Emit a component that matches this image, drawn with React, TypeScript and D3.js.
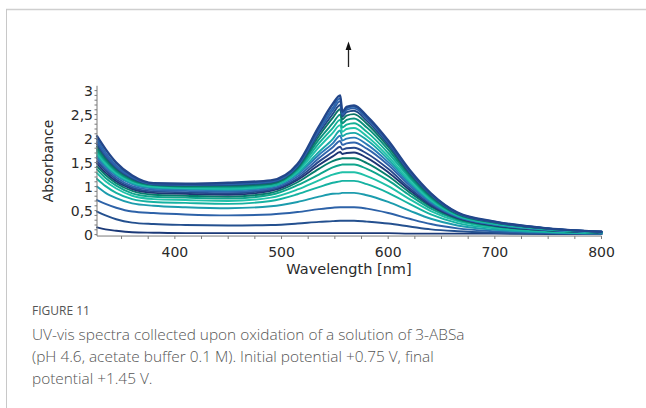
import React from "react";
import * as d3 from "d3";

// wavelength grid (nm) at which each spectrum was read
const wavelengths = [327, 335, 345, 360, 380, 410, 450, 490, 515, 535, 548, 555, 557, 561, 568, 580, 600, 620, 640, 665, 700, 750, 800];

// absorbance spectra, first (bottom) to last (top)
const s01 = [0.15, 0.11, 0.08, 0.05, 0.04, 0.03, 0.03, 0.03, 0.03, 0.03, 0.03, 0.03, 0.03, 0.03, 0.03, 0.03, 0.03, 0.02, 0.02, 0.02, 0.02, 0.01, 0.01];
const s02 = [0.48, 0.40, 0.32, 0.25, 0.22, 0.20, 0.19, 0.20, 0.23, 0.265, 0.28, 0.29, 0.29, 0.29, 0.29, 0.27, 0.23, 0.17, 0.11, 0.07, 0.04, 0.02, 0.01];
const s03 = [0.72, 0.64, 0.56, 0.48, 0.45, 0.42, 0.40, 0.42, 0.47, 0.53, 0.56, 0.57, 0.57, 0.57, 0.57, 0.54, 0.45, 0.33, 0.22, 0.13, 0.07, 0.035, 0.02];
const s04 = [1.00, 0.87, 0.76, 0.65, 0.60, 0.57, 0.55, 0.59, 0.68, 0.79, 0.85, 0.86, 0.87, 0.87, 0.87, 0.82, 0.68, 0.50, 0.33, 0.19, 0.10, 0.05, 0.025];
const s05 = [1.16, 1.01, 0.87, 0.74, 0.68, 0.66, 0.64, 0.70, 0.84, 0.99, 1.08, 1.11, 1.12, 1.12, 1.12, 1.05, 0.87, 0.64, 0.42, 0.24, 0.13, 0.06, 0.03];
const s06 = [1.28, 1.11, 0.96, 0.81, 0.74, 0.72, 0.70, 0.77, 0.94, 1.13, 1.25, 1.29, 1.30, 1.30, 1.30, 1.22, 1.01, 0.74, 0.49, 0.28, 0.15, 0.07, 0.035];
const s07 = [1.36, 1.18, 1.02, 0.86, 0.79, 0.77, 0.75, 0.83, 1.03, 1.25, 1.40, 1.45, 1.46, 1.46, 1.46, 1.37, 1.13, 0.82, 0.54, 0.31, 0.17, 0.08, 0.04];
const s08 = [1.42, 1.24, 1.07, 0.91, 0.83, 0.81, 0.79, 0.87, 1.09, 1.37, 1.53, 1.58, 1.59, 1.59, 1.59, 1.49, 1.22, 0.88, 0.58, 0.33, 0.18, 0.09, 0.04];
const s09 = [1.48, 1.29, 1.11, 0.95, 0.87, 0.85, 0.83, 0.91, 1.14, 1.45, 1.63, 1.72, 1.68, 1.70, 1.71, 1.60, 1.30, 0.93, 0.61, 0.35, 0.19, 0.09, 0.045];
const s10 = [1.53, 1.34, 1.15, 0.98, 0.90, 0.88, 0.86, 0.94, 1.17, 1.52, 1.72, 1.83, 1.77, 1.80, 1.81, 1.69, 1.37, 0.97, 0.63, 0.36, 0.20, 0.10, 0.045];
const s11 = [1.58, 1.38, 1.19, 1.01, 0.93, 0.91, 0.89, 0.96, 1.21, 1.59, 1.82, 1.95, 1.87, 1.90, 1.92, 1.79, 1.45, 1.02, 0.66, 0.37, 0.21, 0.10, 0.05];
const s12 = [1.62, 1.42, 1.23, 1.05, 0.96, 0.94, 0.92, 0.99, 1.25, 1.66, 1.90, 2.06, 1.96, 2.00, 2.02, 1.88, 1.51, 1.06, 0.68, 0.38, 0.21, 0.10, 0.05];
const s13 = [1.66, 1.45, 1.25, 1.07, 0.98, 0.96, 0.94, 1.00, 1.28, 1.72, 1.99, 2.17, 2.05, 2.10, 2.12, 1.97, 1.57, 1.10, 0.70, 0.39, 0.22, 0.11, 0.05];
const s14 = [1.70, 1.48, 1.28, 1.10, 1.00, 0.97, 0.96, 1.02, 1.31, 1.82, 2.12, 2.28, 2.14, 2.20, 2.22, 2.05, 1.63, 1.13, 0.72, 0.40, 0.23, 0.11, 0.05];
const s15 = [1.74, 1.52, 1.31, 1.12, 1.02, 0.99, 0.98, 1.03, 1.34, 1.90, 2.22, 2.39, 2.23, 2.29, 2.32, 2.14, 1.70, 1.18, 0.75, 0.41, 0.24, 0.12, 0.055];
const s16 = [1.78, 1.55, 1.33, 1.13, 1.03, 1.00, 1.00, 1.06, 1.37, 1.98, 2.32, 2.50, 2.32, 2.39, 2.42, 2.23, 1.77, 1.22, 0.78, 0.42, 0.25, 0.12, 0.055];
const s17 = [1.83, 1.59, 1.36, 1.15, 1.04, 1.01, 1.02, 1.06, 1.39, 2.05, 2.43, 2.61, 2.40, 2.48, 2.51, 2.31, 1.83, 1.26, 0.80, 0.43, 0.25, 0.125, 0.06];
const s18 = [1.88, 1.63, 1.39, 1.17, 1.05, 1.03, 1.04, 1.09, 1.42, 2.11, 2.51, 2.70, 2.46, 2.55, 2.58, 2.37, 1.88, 1.29, 0.83, 0.44, 0.26, 0.125, 0.06];
const s19 = [1.93, 1.66, 1.41, 1.19, 1.05, 1.04, 1.05, 1.10, 1.43, 2.16, 2.58, 2.78, 2.50, 2.60, 2.63, 2.42, 1.92, 1.32, 0.84, 0.45, 0.26, 0.13, 0.06];
const s20 = [1.98, 1.71, 1.44, 1.21, 1.06, 1.05, 1.06, 1.11, 1.44, 2.20, 2.64, 2.84, 2.53, 2.63, 2.66, 2.45, 1.94, 1.33, 0.85, 0.45, 0.27, 0.13, 0.06];
const s21 = [2.05, 1.78, 1.50, 1.23, 1.07, 1.06, 1.08, 1.13, 1.47, 2.25, 2.72, 2.90, 2.56, 2.66, 2.69, 2.47, 1.96, 1.35, 0.86, 0.46, 0.27, 0.13, 0.06];

const spectra = [s01, s02, s03, s04, s05, s06, s07, s08, s09, s10, s11, s12, s13, s14, s15, s16, s17, s18, s19, s20, s21];

const colors = [
  "#1c3a78", "#24508f", "#2d62a8", "#1c9cad", "#16b2a2", "#20c0a8", "#0fa58c",
  "#077d6c", "#1d3573", "#27488c", "#3065ad", "#2b7ab8", "#18a8a8", "#22c2aa",
  "#12b096", "#0a917e", "#0a7466", "#1f4a88", "#2d5ea6", "#2a66ae", "#22468a",
];

const xMajorTicks = [400, 500, 600, 700, 800];
const xMinorTicks = d3.range(350, 801, 25);
const yMajorTicks = [0, 0.5, 1, 1.5, 2, 2.5, 3];
const yTickLabels = ["0", "0,5", "1", "1,5", "2", "2,5", "3"];
const yMinorTicks = d3.range(0, 31, 1).map((v) => v / 10);

const captionTitle = "FIGURE 11";
const captionLines = [
  "UV-vis spectra collected upon oxidation of a solution of 3-ABSa",
  "(pH 4.6, acetate buffer 0.1 M). Initial potential +0.75 V, final",
  "potential +1.45 V.",
];

export default function App() {
  const x = d3.scaleLinear().domain([327, 800]).range([97, 601.5]);
  const y = d3.scaleLinear().domain([0, 3]).range([234.6, 90.6]);
  const axisY = y(-0.03);
  const axisTop = y(3.1);
  const line = d3
    .line<number>()
    .x((_, i) => x(wavelengths[i]))
    .y((d) => y(d))
    .curve(d3.curveMonotoneX);

  const tickFont = "DejaVu Sans, Verdana, sans-serif";
  return (
    <svg
      width={646}
      height={408}
      style={{ position: "absolute", left: 0, top: 0, background: "#fff" }}
    >
      <rect x={0} y={0} width={646} height={408} fill="#fff" />
      {/* frame */}
      <line x1={6} y1={9.5} x2={646} y2={9.5} stroke="#cfcfcf" strokeWidth={1.5} />
      <line x1={6.5} y1={9} x2={6.5} y2={408} stroke="#c8c8c8" strokeWidth={1} />

      {/* spectra */}
      <g fill="none" strokeLinejoin="round" strokeLinecap="round">
        {spectra.map((s, i) => (
          <path
            key={i}
            d={line(s) || ""}
            stroke={colors[i]}
            strokeWidth={i === spectra.length - 1 ? 2.4 : 1.9}
          />
        ))}
      </g>

      {/* axes */}
      <g stroke="#7a7a7a" strokeWidth={1}>
        <line x1={97} y1={axisY} x2={601.5} y2={axisY} />
        <line x1={97} y1={axisTop} x2={97} y2={axisY} />
        {xMinorTicks.map((t) => (
          <line key={"xm" + t} x1={x(t)} x2={x(t)} y1={axisY} y2={axisY + 3} />
        ))}
        {yMinorTicks.map((t) => (
          <line key={"ym" + t} x1={94.5} x2={97} y1={y(t)} y2={y(t)} />
        ))}
      </g>
      <g fontFamily={tickFont} fontSize={14} fill="#2a2a2a">
        {xMajorTicks.map((t) => (
          <text key={"xl" + t} x={x(t)} y={257} textAnchor="middle">
            {t}
          </text>
        ))}
        {yMajorTicks.map((t, i) => (
          <text key={"yl" + t} x={93} y={y(t)} dy="0.36em" textAnchor="end">
            {yTickLabels[i]}
          </text>
        ))}
        <text x={349} y={273.5} textAnchor="middle" fontSize={14.5}>
          Wavelength [nm]
        </text>
        <text
          transform="translate(53,161) rotate(-90)"
          textAnchor="middle"
          fontSize={14}
        >
          Absorbance
        </text>
      </g>

      {/* arrow */}
      <line x1={348.5} y1={67} x2={348.5} y2={48} stroke="#222" strokeWidth={1.3} />
      <polygon points="348.5,41.5 345.6,50 351.4,50" fill="#111" />

      {/* caption */}
      <text x={32} y={315} fontFamily="Open Sans, sans-serif" fontSize={12} fontWeight={500} fill="#555">
        {captionTitle}
      </text>
      {captionLines.map((l, i) => (
        <text
          key={i}
          x={32}
          y={340 + i * 21.8}
          fontFamily="Open Sans, sans-serif"
          fontSize={15.4}
          fontWeight={300}
          fill="#555"
        >
          {l}
        </text>
      ))}
    </svg>
  );
}
